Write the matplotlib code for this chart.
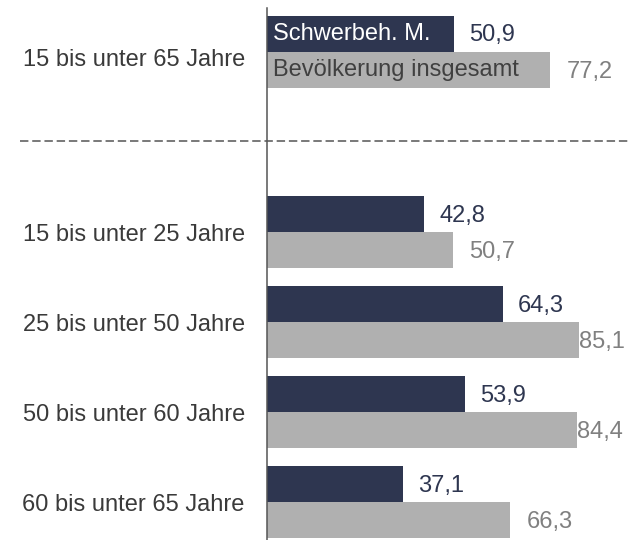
import matplotlib.pyplot as plt
from matplotlib.lines import Line2D

plt.rcParams['font.family'] = ['Liberation Sans', 'DejaVu Sans']

categories = ['15 bis unter 65 Jahre', '', '15 bis unter 25 Jahre', '25 bis unter 50 Jahre',
              '50 bis unter 60 Jahre', '60 bis unter 65 Jahre']
schwerbeh = [50.9, None, 42.8, 64.3, 53.9, 37.1]
gesamt = [77.2, None, 50.7, 85.1, 84.4, 66.3]
series_names = ['Schwerbeh. M.', 'Bevölkerung insgesamt']

dark = '#2e3650'
grey = '#b0b0b0'

fig = plt.figure(figsize=(6.34, 5.4), dpi=100)
W, H = 634, 540
ax = fig.add_axes([267 / W, 0, (W - 267) / W, (H - 8) / H])

h = 0.4
for i, (a, b) in enumerate(zip(schwerbeh, gesamt)):
    if a is None:
        continue
    ax.barh(i - h / 2, a, height=h, color=dark)
    ax.barh(i + h / 2, b, height=h, color=grey)
    pad_a = 15
    pad_b = 0 if b > 80 else 16
    ax.annotate(f'{a:.1f}'.replace('.', ','), (a, i - h / 2), xytext=(pad_a * 0.72, -1),
                textcoords='offset points', va='center', ha='left', fontsize=17, color=dark)
    ax.annotate(f'{b:.1f}'.replace('.', ','), (b, i + h / 2), xytext=(pad_b * 0.72, -1),
                textcoords='offset points', va='center', ha='left', fontsize=17, color='#808080')

# series names inside the first pair of bars
ax.text(1.5, 0 - h / 2, series_names[0], va='center', ha='left', fontsize=17, color='white')
ax.text(1.5, 0 + h / 2, series_names[1], va='center', ha='left', fontsize=17, color='#404040')

ax.set_xlim(0, 100)
ax.set_ylim(5.42, -0.49)
ax.set_yticks([0.06, 2, 3, 4, 5])
ax.set_yticklabels([categories[k] for k in [0, 2, 3, 4, 5]], fontsize=17, color='#3a3a3a')
ax.tick_params(axis='y', length=0, pad=16)
ax.set_xticks([])
for s in ['top', 'right', 'bottom']:
    ax.spines[s].set_visible(False)
ax.spines['left'].set_color('#555555')
ax.spines['left'].set_linewidth(1.1)

# dashed separator across the figure
fig.add_artist(Line2D([20 / W, 630 / W], [1 - 141 / H, 1 - 141 / H], transform=fig.transFigure,
                      color='#555555', lw=1.1, linestyle=(0, (5.5, 2.5))))

fig.savefig('out.png', dpi=100)
